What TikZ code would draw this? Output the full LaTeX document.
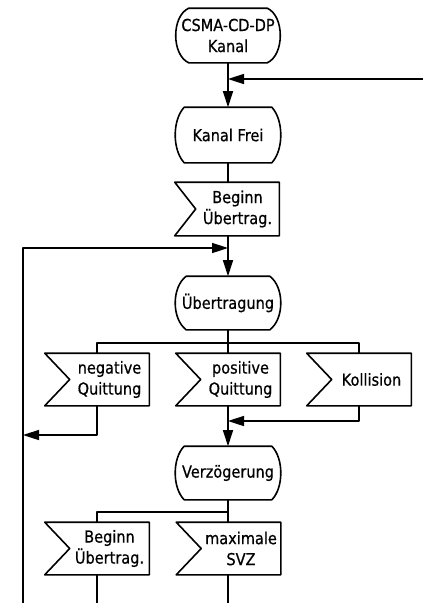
\documentclass[tikz,border=0pt]{standalone}
\usepackage{fontspec}
\setmainfont{DejaVu Sans}[FakeStretch=0.88, FakeBold=0.6]
\usetikzlibrary{arrows.meta}

% SDL state symbol: flat top and bottom, sides bulging outwards
% #1 node, #2 bulge, #3 drop of the control points
\newcommand\stateshape[3]{%
  \draw ([xshift=#2]#1.north west) -- ([xshift=-#2]#1.north east)
    .. controls ([xshift=#2/3,yshift=-#3]#1.north east) and ([xshift=#2/3,yshift=#3]#1.south east) .. ([xshift=-#2]#1.south east)
    -- ([xshift=#2]#1.south west)
    .. controls ([xshift=-#2/3,yshift=#3]#1.south west) and ([xshift=-#2/3,yshift=-#3]#1.north west) .. ([xshift=#2]#1.north west)
    -- cycle;}

% SDL input signal symbol: the node holds the text area, the notch
% of depth #2 lies to the left of it
\newcommand\sigshape[2]{%
  \draw ([xshift=-#2]#1.north west) -- (#1.north east) -- (#1.south east)
    -- ([xshift=-#2]#1.south west) -- (#1.west) -- cycle;}

\begin{document}
\begin{tikzpicture}[x=1pt,y=-1pt,
  line width=1.6pt, line join=round,
  txt/.style={font=\fontsize{16.5}{21}\selectfont, inner sep=0pt, align=center},
  statebox/.style={txt, minimum width=104pt, minimum height=52pt},
  sigbox/.style={txt, minimum width=103pt-#1, minimum height=51pt, xshift=#1/2},
  sigbox/.default=25pt,
  flow/.style={-{Triangle[length=16pt,width=10pt]}},
]
\useasboundingbox[fill=white] (0,0) rectangle (423,603);

% column axes
\coordinate (colL) at (97,0);
\coordinate (colM) at (228,0);
\coordinate (colR) at (359,0);

% nodes
\node[statebox, minimum width=103pt, minimum height=53pt] (csma) at (228,35.5) {CSMA-CD-DP\\Kanal};
\node[statebox, minimum height=54pt] (frei) at (228,135) {Kanal Frei};
\node[sigbox=21pt, minimum height=52pt] (beg1) at (227,209) {Beginn\\Übertrag.};
\node[statebox] (uebt) at (228,303) {Übertragung};
\node[sigbox] (negq) at (97,379.5) {negative\\Quittung};
\node[sigbox] (posq) at (228,379.5) {positive\\Quittung};
\node[sigbox] (koll) at (359,379.5) {Kollision};
\node[statebox] (verz) at (228,473) {Verzögerung};
\node[sigbox] (beg2) at (97,548.5) {Beginn\\Übertrag.};
\node[sigbox] (maxs) at (228.5,548.5) {maximale\\SVZ};

% outlines
\stateshape{csma}{13pt}{8pt}
\stateshape{frei}{9pt}{13pt}
\sigshape{beg1}{21pt}
\stateshape{uebt}{11pt}{11pt}
\sigshape{negq}{25pt}
\sigshape{posq}{25pt}
\sigshape{koll}{25pt}
\stateshape{verz}{9pt}{12pt}
\sigshape{beg2}{25pt}
\sigshape{maxs}{25pt}

% helper coordinates
\coordinate (rin) at (423,79);
\coordinate (lc) at (23,248);
\coordinate (lb) at (23,603);
\coordinate (br1) at (0,343);
\coordinate (kturn) at (0,421);
\coordinate (nturn) at (0,435);
\coordinate (br2) at (0,512);

% connectors
\draw[flow] (csma.south) -- (frei.north);
\draw[flow] (rin) -- (csma.south |- rin);
\draw (frei.south) -- (beg1.north -| colM);
\draw[flow] (beg1.south -| colM) -- (uebt.north);
\draw[flow] (lb) -- (lc) -- (colM |- lc);
\draw (uebt.south) -- (posq.north -| colM);
\draw (negq.north -| colL) -- (colL |- br1) -- (colR |- br1) -- (koll.north -| colR);
\draw[flow] (posq.south -| colM) -- (verz.north);
\draw[flow] (koll.south -| colR) -- (colR |- kturn) -- (colM |- kturn);
\draw[flow] (negq.south -| colL) -- (colL |- nturn) -- (lb |- nturn);
\draw (verz.south) -- (maxs.north -| colM);
\draw (colM |- br2) -- (colL |- br2) -- (beg2.north -| colL);
\draw (beg2.south -| colL) -- (colL |- lb);
\draw (maxs.south -| colM) -- (colM |- lb);
\end{tikzpicture}
\end{document}
